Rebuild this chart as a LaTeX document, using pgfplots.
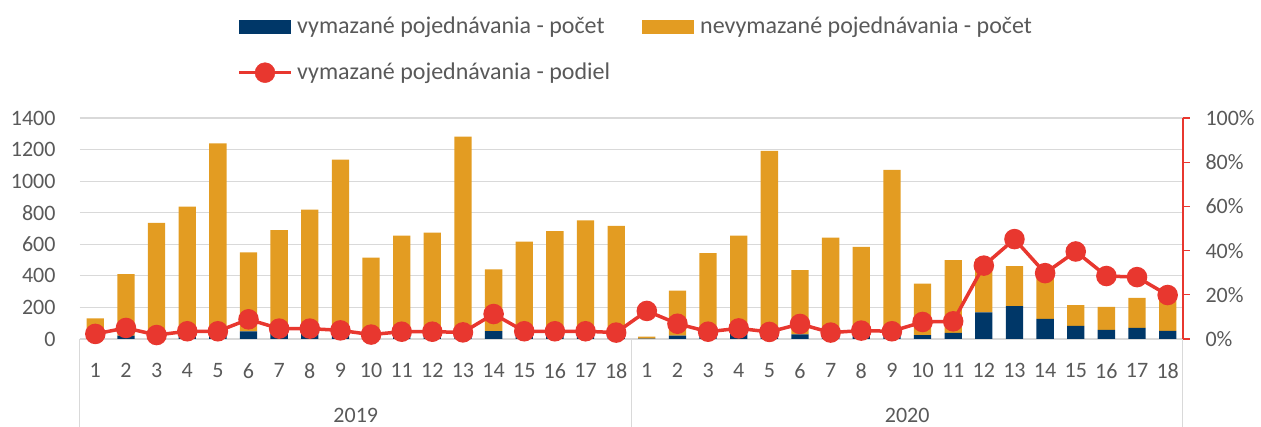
\documentclass[border=0pt]{standalone}
\usepackage{pgfplots}
\pgfplotsset{compat=1.18}
\usepackage{pgfplotstable}
\usepackage{fontspec}
\setmainfont{Carlito}
\definecolor{navy}{HTML}{003768}
\definecolor{orng}{HTML}{E39C22}
\definecolor{redl}{HTML}{E8372F}
\definecolor{txtg}{HTML}{595959}
\definecolor{gridg}{HTML}{D9D9D9}
\newcommand\fs{\fontsize{22}{26}\selectfont}
\newcommand\fl{\fontsize{24}{28}\selectfont}

\pgfplotstableread{
x dark light pct
0 3 127 2.3
1 21 390 5.0
2 13 722 1.8
3 29 810 3.5
4 43 1196 3.5
5 49 500 8.9
6 32 657 4.7
7 39 781 4.7
8 44 1092 3.9
9 10 505 2.0
10 22 633 3.3
11 22 652 3.3
12 38 1244 3.0
13 50 391 11.3
14 22 595 3.5
15 24 660 3.5
16 26 726 3.5
17 21 695 2.9
18 2 13 12.7
19 21 286 6.9
20 18 526 3.3
21 31 624 4.8
22 38 1153 3.2
23 30 406 6.8
24 19 623 2.9
25 22 561 3.8
26 38 1034 3.5
27 25 325 7.7
28 38 462 8.0
29 169 339 33.2
30 208 254 45.2
31 127 303 29.8
32 83 131 39.6
33 57 146 28.5
34 70 191 28.0
35 51 204 19.9
}\data

\begin{document}
\fs
\begin{tikzpicture}
\begin{axis}[
  name=main,
  scale only axis, width=1103pt, height=221pt,
  xmin=-0.5, xmax=35.5, ymin=0, ymax=1400,
  ybar stacked, bar width=17.3pt,
  axis x line*=bottom, axis y line*=left,
  x axis line style={draw=gridg, line width=1pt},
  y axis line style={draw=none},
  xtick={0,...,35},
  xticklabels={1,2,3,4,5,6,7,8,9,10,11,12,13,14,15,16,17,18,1,2,3,4,5,6,7,8,9,10,11,12,13,14,15,16,17,18},
  ytick={0,200,...,1400},
  major tick length=0pt,
  tick style={draw=none},
  ymajorgrids, grid style={draw=gridg, line width=1.2pt},
  tick label style={font=\fs, text=txtg},
  /pgf/number format/assume math mode=true,
  /pgf/number format/1000 sep={},
  yticklabel style={xshift=-17pt},
  xticklabel style={yshift=-17pt},
  clip=false,
  legend columns=2,
  legend style={font=\fl, text=txtg, draw=none, fill=none, inner sep=0pt,
    at={(0.1424,1.46)}, anchor=north west,
    row sep=26pt,
    nodes={inner sep=0pt},
    /tikz/every odd column/.append style={column sep=0pt},
    /tikz/every even column/.append style={column sep=32pt}},
  legend cell align=left,
]
\addplot[fill=navy, draw=none,
  legend image code/.code={\fill[navy] (0pt,-7pt) rectangle (52pt,7pt); \path (58pt,0pt);}]
  table[x=x, y=dark] {\data};
\addlegendentry{vymazané pojednávania - počet}
\addplot[fill=orng, draw=none,
  legend image code/.code={\fill[orng] (0pt,-7pt) rectangle (52pt,7pt); \path (58pt,0pt);}]
  table[x=x, y=light] {\data};
\addlegendentry{nevymazané pojednávania - počet}
\addlegendimage{legend image code/.code={\draw[redl, line width=3.5pt] (0pt,0pt) -- (52pt,0pt); \fill[redl] (26pt,0pt) circle (10pt); \path (58pt,0pt);}}
\addlegendentry{vymazané pojednávania - podiel}
\draw[gridg, line width=1pt] (axis cs:-0.5,0) -- ++(0pt,-88pt);
\draw[gridg, line width=1pt] (axis cs:17.5,0) -- ++(0pt,-88pt);
\draw[gridg, line width=1pt] (axis cs:35.5,0) -- ++(0pt,-88pt);
\node[text=txtg, font=\fs] at (axis cs:8.5,0) [yshift=-76pt] {2019};
\node[text=txtg, font=\fs] at (axis cs:26.5,0) [yshift=-76pt] {2020};
\end{axis}
\begin{axis}[
  scale only axis, width=1103pt, height=221pt,
  xmin=-0.5, xmax=35.5, ymin=0, ymax=100,
  axis x line=none, axis y line*=right,
  y axis line style={draw=redl, line width=1.2pt},
  ytick={0,20,...,100},
  yticklabel={\pgfmathprintnumber{\tick}\%},
  tick align=outside, major tick length=7pt,
  ytick style={draw=redl, line width=1.2pt},
  tick label style={font=\fs, text=txtg},
  yticklabel style={xshift=8pt},
  /pgf/number format/assume math mode=true,
  clip=false,
]
\addplot[redl, line width=3.5pt, mark=*, mark size=8.5pt] table[x=x, y=pct] {\data};
\end{axis}
\pgfresetboundingbox
\path (main.south west) ++(-80pt,-88pt) rectangle ++(1261pt,427pt);
\end{tikzpicture}
\end{document}
